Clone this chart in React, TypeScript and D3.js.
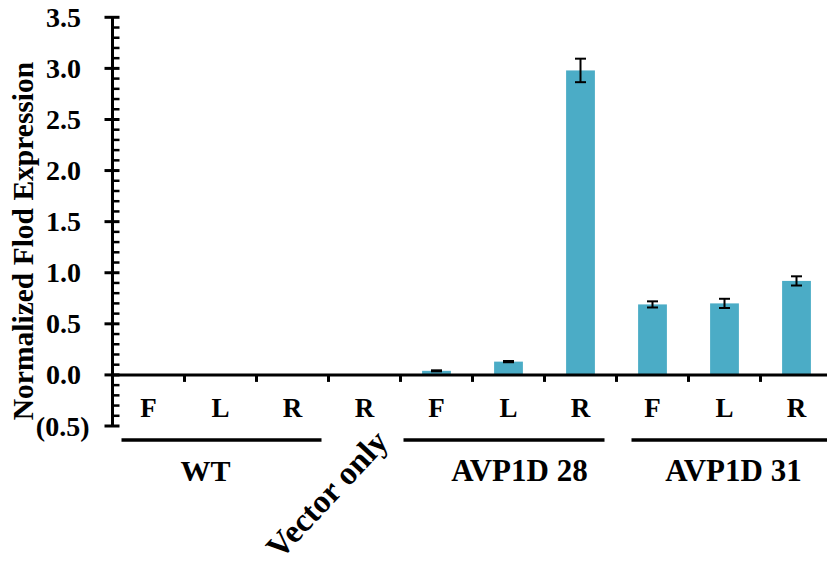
import React from "react";
import * as d3 from "d3";

const categories = ["F", "L", "R", "R", "F", "L", "R", "F", "L", "R"];
const values = [0, 0, 0, 0, 0.04, 0.13, 2.98, 0.69, 0.7, 0.92];
const errors = [0, 0, 0, 0, 0.005, 0.006, 0.115, 0.03, 0.045, 0.045];
const majorTicks = [-0.5, 0, 0.5, 1, 1.5, 2, 2.5, 3, 3.5];
const groupNames = ["WT", "Vector only", "AVP1D 28", "AVP1D 31"];
const groupStart = [0, 3, 4, 7];
const groupEnd = [2, 3, 6, 9];

// style/layout constants (not data)
const W = 827;
const H = 567;
const FONT = "'Liberation Serif', 'Times New Roman', serif";
const BAR = "#4BACC6";
const lineInsets: [number, number][] = [[9, 7], [0, 0], [3, 12], [15, -10]];
const labelShift = [-15, 0, 11, 9];

function fmt(v: number) {
  const s = Math.abs(v).toFixed(1);
  return v < 0 ? `(${s})` : s;
}

export default function App() {
  const x = d3
    .scaleBand<number>()
    .domain(d3.range(categories.length))
    .range([112.5, 112.5 + 72 * categories.length])
    .paddingInner(0)
    .paddingOuter(0);
  const bw = x.bandwidth();
  const barW = bw / 2.5;
  const y = d3.scaleLinear().domain([-0.5, 3.5]).range([426, 17.3]);
  const minorTicks = d3.range(-5, 36).map((d) => d / 10).filter((d) => Math.abs(d * 2 - Math.round(d * 2)) > 1e-6);
  const axisX = 112.5;
  const y0 = y(0);

  return (
    <svg width={W} height={H} style={{ position: "absolute", left: 0, top: 0, background: "#fff" }} fontFamily={FONT} fontWeight="bold">
      {/* bars */}
      {values.map((v, i) =>
        v > 0 ? (
          <rect key={"b" + i} x={(x(i) as number) + (bw - barW) / 2} y={y(v)} width={barW} height={y0 - y(v)} fill={BAR} />
        ) : null
      )}
      {/* error bars */}
      {values.map((v, i) => {
        if (v <= 0) return null;
        const cx = (x(i) as number) + bw / 2;
        const e = errors[i];
        return (
          <g key={"e" + i} stroke="#000" strokeWidth={2}>
            <line x1={cx} x2={cx} y1={y(v + e)} y2={y(v - e)} />
            <line x1={cx - 5.5} x2={cx + 5.5} y1={y(v + e)} y2={y(v + e)} />
            <line x1={cx - 5.5} x2={cx + 5.5} y1={y(v - e)} y2={y(v - e)} />
          </g>
        );
      })}
      {/* x axis */}
      <line x1={axisX} x2={W} y1={y0} y2={y0} stroke="#000" strokeWidth={3} />
      {d3.range(1, categories.length).map((k) => (
        <line key={"xt" + k} x1={x(k) as number} x2={x(k) as number} y1={y0} y2={y0 + 7} stroke="#000" strokeWidth={3} />
      ))}
      {/* y axis */}
      <line x1={axisX} x2={axisX} y1={y(3.5)} y2={y(-0.5)} stroke="#000" strokeWidth={3} />
      {majorTicks.map((t) => (
        <line key={"mt" + t} x1={axisX - 8} x2={axisX + 7} y1={y(t)} y2={y(t)} stroke="#000" strokeWidth={3} />
      ))}
      {minorTicks.map((t) => (
        <line key={"mn" + t} x1={axisX} x2={axisX + 7} y1={y(t)} y2={y(t)} stroke="#000" strokeWidth={2.5} />
      ))}
      {majorTicks.map((t) => (
        <text key={"tl" + t} x={t < 0 ? 89.5 : 81} y={y(t)} dy="0.34em" textAnchor="end" fontSize={28}>
          {fmt(t)}
        </text>
      ))}
      {/* y title */}
      <text transform={`translate(33,241) rotate(-90)`} textAnchor="middle" fontSize={29.5}>
        Normalized Flod Expression
      </text>
      {/* category labels */}
      {categories.map((c, i) => (
        <text key={"c" + i} x={(x(i) as number) + bw / 2} y={416.5} textAnchor="middle" fontSize={27}>
          {c}
        </text>
      ))}
      {/* groups */}
      {groupNames.map((g, gi) => {
        const xs = x(groupStart[gi]) as number;
        const xe = (x(groupEnd[gi]) as number) + bw;
        const cx = (xs + xe) / 2;
        if (groupStart[gi] === groupEnd[gi]) {
          return (
            <text key={"g" + gi} transform={`translate(${cx - 38},494) rotate(-47)`} textAnchor="middle" dy="0.35em" fontSize={33}>
              {g}
            </text>
          );
        }
        return (
          <g key={"g" + gi}>
            <line x1={xs + lineInsets[gi][0]} x2={xe - lineInsets[gi][1]} y1={440} y2={440} stroke="#000" strokeWidth={3.5} />
            <text x={cx + labelShift[gi]} y={480.5} textAnchor="middle" fontSize={gi === 0 ? 30 : 31}>
              {g}
            </text>
          </g>
        );
      })}
    </svg>
  );
}
